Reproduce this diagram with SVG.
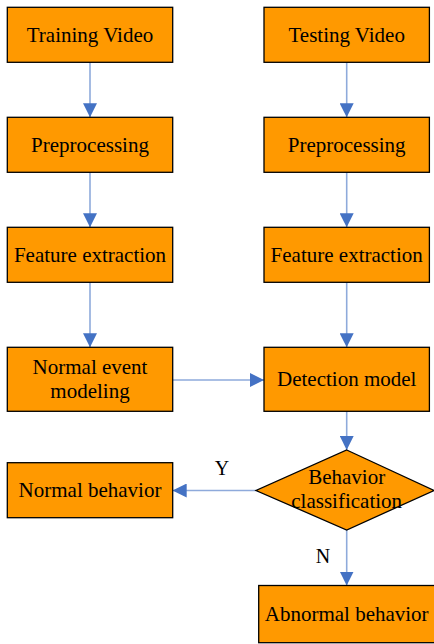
<svg xmlns="http://www.w3.org/2000/svg" width="434" height="644" viewBox="0 0 434 644">
<style>
.box{fill:#FF9900;stroke:#000;stroke-width:1.3}
.t{font-family:"Liberation Serif","Times New Roman",serif;font-size:21px;fill:#000;text-anchor:middle}
.ln{stroke:#8EAADB;stroke-width:1.6;fill:none}
.lb{font-family:"Liberation Serif","Times New Roman",serif;font-size:20px;fill:#000;text-anchor:middle}
</style>
<defs>
<marker id="ah" viewBox="0 0 14 14" refX="14" refY="7" markerWidth="14" markerHeight="14" markerUnits="userSpaceOnUse" orient="auto">
<path d="M0,0 L14,7 L0,14 Z" fill="#4472C4"/>
</marker>
</defs>
<rect width="434" height="644" fill="#fff"/>
<g id="connectors">
<line class="ln" x1="90" y1="62.3" x2="90" y2="117.3" marker-end="url(#ah)"/>
<line class="ln" x1="90" y1="172.3" x2="90" y2="227.3" marker-end="url(#ah)"/>
<line class="ln" x1="90" y1="282.3" x2="90" y2="347.3" marker-end="url(#ah)"/>
<line class="ln" x1="346.7" y1="62.3" x2="346.7" y2="117.3" marker-end="url(#ah)"/>
<line class="ln" x1="346.7" y1="172.3" x2="346.7" y2="227.3" marker-end="url(#ah)"/>
<line class="ln" x1="346.7" y1="282.3" x2="346.7" y2="347.3" marker-end="url(#ah)"/>
<line class="ln" x1="172.7" y1="380" x2="264" y2="380" marker-end="url(#ah)"/>
<line class="ln" x1="346.7" y1="411.3" x2="346.7" y2="450" marker-end="url(#ah)"/>
<line class="ln" x1="256" y1="490.5" x2="172.7" y2="490.5" marker-end="url(#ah)"/>
<line class="ln" x1="346.7" y1="530" x2="346.7" y2="585.5" marker-end="url(#ah)"/>
<text class="lb" x="222" y="475">Y</text>
<text class="lb" x="323" y="563">N</text>
</g>
<g id="training-video"><rect class="box" x="7.3" y="7.3" width="165.4" height="55"/><text class="t" x="90" y="41.7">Training Video</text></g>
<g id="testing-video"><rect class="box" x="264" y="7.3" width="165.4" height="55"/><text class="t" x="346.7" y="41.7">Testing Video</text></g>
<g id="preprocessing-left"><rect class="box" x="7.3" y="117.3" width="165.4" height="55"/><text class="t" x="90" y="151.7">Preprocessing</text></g>
<g id="preprocessing-right"><rect class="box" x="264" y="117.3" width="165.4" height="55"/><text class="t" x="346.7" y="151.7">Preprocessing</text></g>
<g id="feature-left"><rect class="box" x="7.3" y="227.3" width="165.4" height="55"/><text class="t" x="90" y="261.7">Feature extraction</text></g>
<g id="feature-right"><rect class="box" x="264" y="227.3" width="165.4" height="55"/><text class="t" x="346.7" y="261.7">Feature extraction</text></g>
<g id="normal-event-modeling"><rect class="box" x="7.3" y="347.3" width="165.4" height="64"/><text class="t" x="90" y="374.3">Normal event</text><text class="t" x="90" y="398.3">modeling</text></g>
<g id="detection-model"><rect class="box" x="264" y="347.3" width="165.4" height="64"/><text class="t" x="346.7" y="386">Detection model</text></g>
<g id="behavior-classification"><polygon class="box" points="346.7,450 434,490.5 346.7,530 256,490.5"/><text class="t" x="346.7" y="484.3">Behavior</text><text class="t" x="346.7" y="508.3">classification</text></g>
<g id="normal-behavior"><rect class="box" x="7.3" y="462.7" width="165.4" height="55"/><text class="t" x="90" y="496.7">Normal behavior</text></g>
<g id="abnormal-behavior"><rect class="box" x="258.7" y="585.5" width="176" height="57.2"/><text class="t" x="346.7" y="620.7">Abnormal behavior</text></g>
</svg>
